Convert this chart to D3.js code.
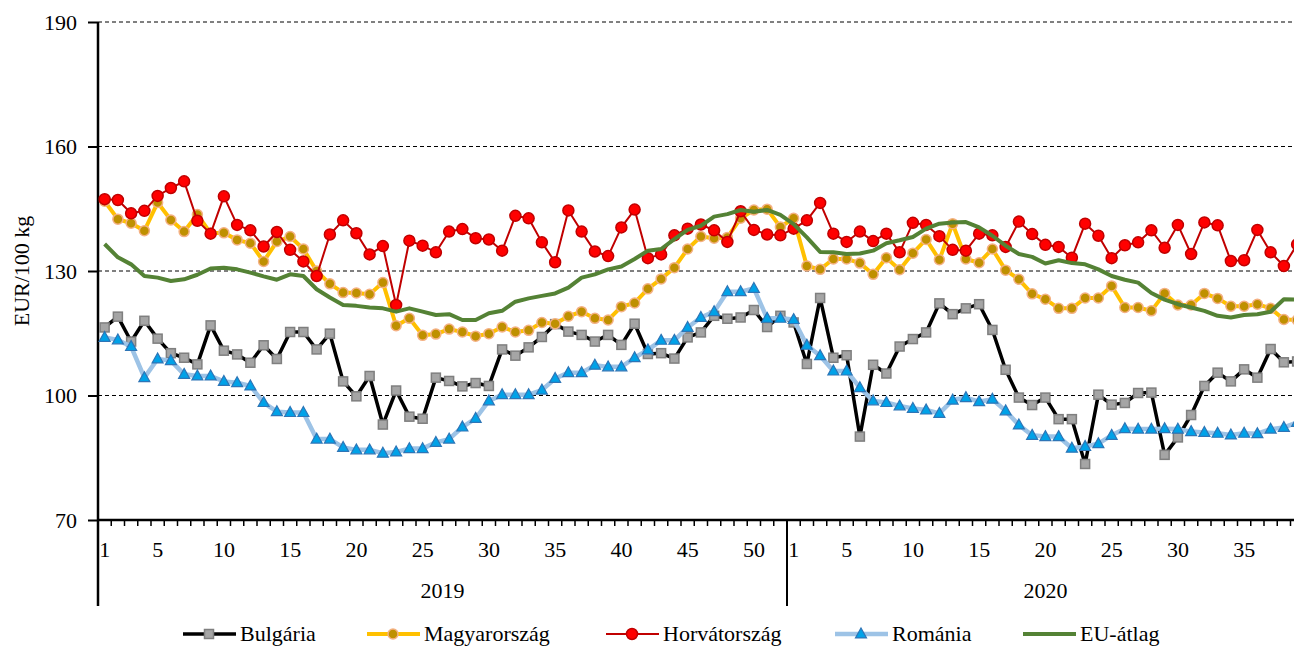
<!doctype html>
<html>
<head>
<meta charset="utf-8">
<script src="https://cdnjs.cloudflare.com/ajax/libs/d3/7.8.5/d3.min.js"></script>
<style>
  body { margin: 0; background: #fff; }
  svg { display: block; }
  svg text { font-family: "Liberation Serif", "Times New Roman", serif; fill: #000; }
</style>
</head>
<body>
<div id="chart"></div>
<script>
// years and number of weeks shown for each
var years = ["2019", "2020"];
var weeksPerYear = [52, 39];
var labelledWeeks = [1, 5, 10, 15, 20, 25, 30, 35, 40, 45, 50];
var yTicks = [70, 100, 130, 160, 190];

var seriesNames = ["Bulgária", "Magyarország", "Horvátország", "Románia", "EU-átlag"];

var bulgaria = [116.4,119.0,113.0,118.0,113.7,110.2,109.1,107.5,116.9,110.8,109.9,107.9,112.1,108.8,115.3,
  115.3,111.1,114.9,103.4,99.8,104.7,93.0,101.2,94.9,94.4,104.3,103.5,102.2,103.0,102.3,
  111.1,109.6,111.6,114.1,117.2,115.4,114.6,113.0,114.6,112.2,117.3,110.0,110.2,108.9,114.0,
  115.2,119.2,118.5,118.8,120.6,116.5,119.2,117.6,
  107.6,123.5,109.1,109.7,90.1,107.4,105.3,111.8,113.6,115.2,122.2,119.6,121.0,122.0,115.8,
  106.2,99.5,97.7,99.5,94.3,94.3,83.5,100.2,97.8,98.2,100.6,100.7,85.7,89.9,95.3,102.3,
  105.5,103.4,106.3,104.3,111.2,108.0,108.2];

var magyarorszag = [146.8,142.5,141.5,139.7,146.5,142.3,139.5,143.6,139.1,139.2,137.5,136.7,132.3,137.1,138.3,
  135.3,130.0,126.9,124.8,124.7,124.4,127.2,116.8,118.6,114.5,114.8,116.0,115.3,114.3,114.9,
  116.5,115.3,115.7,117.6,117.3,119.1,120.2,118.6,118.2,121.4,122.3,125.7,128.1,130.8,135.3,
  138.3,137.9,138.1,142.7,144.7,144.9,140.6,142.7,
  131.2,130.4,132.9,132.9,131.9,129.2,133.2,130.3,134.3,137.6,132.7,141.4,132.9,132.0,135.3,
  130.2,128.0,124.5,123.2,121.0,121.0,123.5,123.5,126.4,121.2,121.2,120.4,124.6,121.8,121.8,
  124.6,123.4,121.5,121.5,122.0,121.0,118.3,118.2];

var horvatorszag = [147.3,147.1,143.9,144.5,148.1,150.0,151.6,142.1,139.0,148.0,141.1,139.8,135.9,139.4,135.1,
  132.3,128.8,138.8,142.2,139.1,134.0,136.0,121.8,137.3,136.1,134.5,139.5,140.1,137.9,137.6,
  134.9,143.3,142.7,136.9,132.1,144.6,139.5,134.7,133.6,140.5,144.8,133.1,134.0,138.6,140.2,
  141.2,139.8,137.0,144.4,139.9,138.8,138.6,
  140.2,142.2,146.4,139.0,137.0,139.5,137.2,139.0,134.5,141.6,141.1,138.4,135.1,134.9,139.0,
  138.6,135.8,141.9,138.9,136.3,135.8,133.2,141.4,138.5,133.1,136.2,136.9,139.8,135.6,141.1,
  134.1,141.7,141.0,132.4,132.6,139.9,134.5,131.2,136.4];

var romania = [114.0,113.4,111.8,104.3,108.8,108.4,105.1,104.7,104.7,103.4,103.1,102.3,98.3,96.1,95.9,
  95.9,89.5,89.5,87.5,86.9,86.9,86.1,86.4,87.2,87.2,88.7,89.5,92.4,94.5,98.7,
  100.2,100.2,100.2,101.3,104.1,105.5,105.5,107.3,106.9,106.9,109.1,111.0,113.3,113.3,116.4,
  118.8,120.2,125.0,125.0,125.8,118.6,118.6,
  118.3,112.1,109.6,105.9,105.9,101.9,98.7,98.3,97.5,96.9,96.5,95.7,98.9,99.5,98.5,99.1,
  96.3,92.9,90.4,90.1,90.1,87.3,87.7,88.4,90.4,92.0,91.9,91.9,92.0,91.9,91.3,91.1,
  90.9,90.5,90.9,90.8,91.9,92.3,93.5];

var euAtlag = [136.5,133.3,131.6,128.8,128.4,127.6,128.0,129.1,130.6,130.8,130.4,129.6,128.7,127.9,129.2,
  128.8,125.6,123.6,121.8,121.6,121.2,121.0,120.2,121.0,120.2,119.4,119.6,118.2,118.2,119.8,
  120.4,122.6,123.4,124.0,124.6,126.0,128.4,129.2,130.4,131.1,132.9,134.9,135.3,137.7,139.9,
  140.9,143.1,143.7,144.7,144.3,144.7,143.5,
  141.3,138.1,134.6,134.5,134.1,134.2,134.9,136.7,137.4,138.2,140.2,141.4,141.7,141.8,140.5,
  138.5,136.1,134.1,133.4,131.8,132.6,131.9,131.6,130.4,128.8,127.9,127.2,124.7,123.1,122.0,
  121.2,120.4,119.2,118.8,119.4,119.6,120.2,123.2,123.1];

// build category list (year, week)
var categories = [];
years.forEach(function(yr, k) {
  for (var w = 1; w <= weeksPerYear[k]; w++) categories.push({ year: yr, week: w });
});

var W = 1294, H = 646;
var plotLeft = 98, plotTop = 22, plotBottom = 520;
var step = 13.25;

var svg = d3.select("#chart").append("svg")
  .attr("width", W).attr("height", H);

var x = d3.scaleBand()
  .domain(d3.range(categories.length))
  .range([plotLeft, plotLeft + categories.length * step])
  .padding(0);

var y = d3.scaleLinear().domain([70, 190]).range([plotBottom, plotTop]);

// dashed gridlines
svg.append("g").selectAll("line")
  .data(yTicks.filter(function(d) { return d > 70; }))
  .enter().append("line")
  .attr("x1", plotLeft).attr("x2", W)
  .attr("y1", function(d) { return y(d); })
  .attr("y2", function(d) { return y(d); })
  .attr("stroke", "#000")
  .attr("stroke-width", 1)
  .attr("stroke-dasharray", "4,3");

// y axis
var yAxis = svg.append("g")
  .attr("transform", "translate(" + plotLeft + ",0)")
  .call(d3.axisLeft(y).tickValues(yTicks).tickSize(10).tickPadding(11));
yAxis.select(".domain").remove();
yAxis.selectAll(".tick line").attr("stroke", "#000").attr("stroke-width", 2);
yAxis.selectAll(".tick text")
  .attr("font-family", "Liberation Serif")
  .attr("font-size", "22px")
  .attr("fill", "#000");

svg.append("line")
  .attr("x1", plotLeft).attr("x2", plotLeft)
  .attr("y1", plotTop).attr("y2", 606)
  .attr("stroke", "#000").attr("stroke-width", 2.5);

svg.append("text")
  .attr("transform", "translate(28.5," + ((plotTop + plotBottom) / 2) + ") rotate(-90)")
  .attr("text-anchor", "middle")
  .attr("font-size", "22px")
  .text("EUR/100 kg");

// x axis line and small category ticks
svg.append("line")
  .attr("x1", plotLeft).attr("x2", W)
  .attr("y1", plotBottom).attr("y2", plotBottom)
  .attr("stroke", "#000").attr("stroke-width", 2.5);

svg.append("g").selectAll("line")
  .data(categories)
  .enter().append("line")
  .attr("x1", function(d, i) { return x(i) + step; })
  .attr("x2", function(d, i) { return x(i) + step; })
  .attr("y1", plotBottom).attr("y2", plotBottom + 6)
  .attr("stroke", "#000").attr("stroke-width", 1.5);

// week labels
svg.append("g").selectAll("text")
  .data(categories.map(function(d, i) { return { d: d, i: i }; })
    .filter(function(o) { return labelledWeeks.indexOf(o.d.week) >= 0; }))
  .enter().append("text")
  .attr("x", function(o) { return x(o.i) + x.bandwidth() / 2; })
  .attr("y", 557)
  .attr("text-anchor", "middle")
  .attr("font-size", "22px")
  .text(function(o) { return o.d.week; });

// year labels and separators
var startIdx = 0;
years.forEach(function(yr, k) {
  var x0 = x(startIdx);
  var x1 = x(startIdx + weeksPerYear[k] - 1) + step;
  svg.append("text")
    .attr("x", (x0 + x1) / 2)
    .attr("y", 598)
    .attr("text-anchor", "middle")
    .attr("font-size", "22px")
    .text(yr);
  if (k > 0) {
    svg.append("line")
      .attr("x1", x0).attr("x2", x0)
      .attr("y1", plotBottom).attr("y2", 606)
      .attr("stroke", "#000").attr("stroke-width", 2);
  }
  startIdx += weeksPerYear[k];
});

// series
var styles = [
  { values: bulgaria, line: "#000000", width: 3.5, marker: "square", fill: "#A5A5A5", stroke: "#7F7F7F", size: 9 },
  { values: magyarorszag, line: "#FFC000", width: 4, marker: "circle", fill: "#BF9000", stroke: "#F4B183", size: 5 },
  { values: horvatorszag, line: "#C00000", width: 2, marker: "circle", fill: "#FF0000", stroke: "#C00000", size: 5.5 },
  { values: romania, line: "#9DC3E6", width: 4.5, marker: "triangle", fill: "#00A2E8", stroke: "#2E75B6", size: 11 },
  { values: euAtlag, line: "#548235", width: 4, marker: null }
];

var line = d3.line()
  .x(function(d, i) { return x(i) + x.bandwidth() / 2; })
  .y(function(d) { return y(d); });

function drawMarker(g, s, cx, cy) {
  if (s.marker === "square") {
    g.append("rect")
      .attr("x", cx - s.size / 2).attr("y", cy - s.size / 2)
      .attr("width", s.size).attr("height", s.size)
      .attr("fill", s.fill).attr("stroke", s.stroke).attr("stroke-width", 1.5);
  } else if (s.marker === "circle") {
    g.append("circle")
      .attr("cx", cx).attr("cy", cy).attr("r", s.size)
      .attr("fill", s.fill).attr("stroke", s.stroke).attr("stroke-width", 1.5);
  } else if (s.marker === "triangle") {
    var h = s.size * 0.9;
    g.append("path")
      .attr("d", "M" + cx + "," + (cy - h * 0.6) + "L" + (cx + s.size / 2) + "," + (cy + h * 0.4) +
        "L" + (cx - s.size / 2) + "," + (cy + h * 0.4) + "Z")
      .attr("fill", s.fill).attr("stroke", s.stroke).attr("stroke-width", 1.2);
  }
}

styles.forEach(function(s) {
  var g = svg.append("g");
  g.append("path")
    .attr("d", line(s.values))
    .attr("fill", "none")
    .attr("stroke", s.line)
    .attr("stroke-width", s.width)
    .attr("stroke-linejoin", "round");
  if (s.marker) {
    s.values.forEach(function(v, i) {
      drawMarker(g, s, x(i) + x.bandwidth() / 2, y(v));
    });
  }
});

// legend
var legendX = [183, 367, 606, 835, 1023];
var legendY = 634;
styles.forEach(function(s, k) {
  var g = svg.append("g");
  g.append("line")
    .attr("x1", legendX[k]).attr("x2", legendX[k] + 53)
    .attr("y1", legendY).attr("y2", legendY)
    .attr("stroke", s.line).attr("stroke-width", s.width);
  if (s.marker) drawMarker(g, s, legendX[k] + 26, legendY);
  g.append("text")
    .attr("x", legendX[k] + 57)
    .attr("y", legendY + 7)
    .attr("font-size", "22px")
    .text(seriesNames[k]);
});
</script>
</body>
</html>
